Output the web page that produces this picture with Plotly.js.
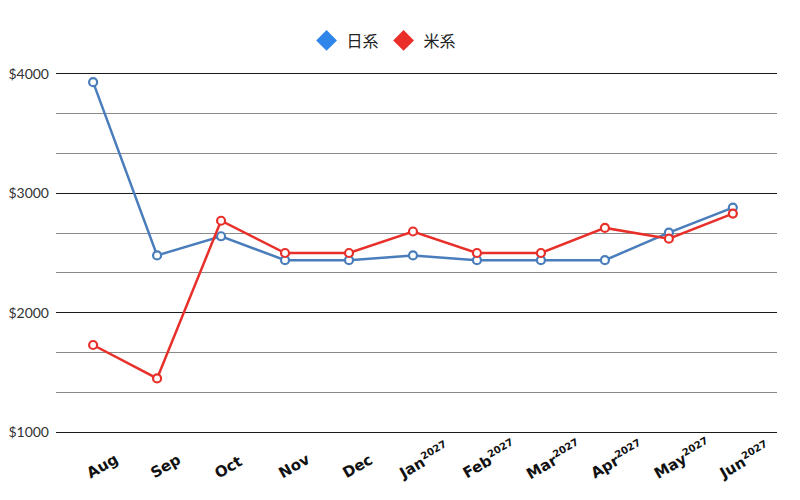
<!DOCTYPE html>
<html>
<head>
<meta charset="utf-8">
<script src="https://cdn.plot.ly/plotly-3.0.1.min.js"></script>
<style>
  html, body { margin: 0; padding: 0; background: #fff; }
  #chart { width: 800px; height: 500px; }
</style>
</head>
<body>
<div id="chart"></div>
<script>
// months along the bottom, 2027 ones get the small year tag
var months = ['Aug', 'Sep', 'Oct', 'Nov', 'Dec', 'Jan', 'Feb', 'Mar', 'Apr', 'May', 'Jun']
var yearTags = ['', '', '', '', '', '2027', '2027', '2027', '2027', '2027', '2027']

// series
var nikkei = [3930, 2480, 2640, 2440, 2440, 2480, 2440, 2440, 2440, 2670, 2880]
var beikei = [1730, 1450, 2770, 2500, 2500, 2680, 2500, 2500, 2710, 2620, 2830]

var seriesNames = ['日系', '米系']
var yTicks = [1000, 2000, 3000, 4000]

var labels = months.map(function (m, i) {
    return yearTags[i] ? m + '<sup><span style="font-size:10px">' + yearTags[i] + '</span></sup>' : m
})

function lineTrace(vals, color) {
    return {
        x: labels,
        y: vals,
        type: 'scatter',
        mode: 'lines+markers',
        showlegend: false,
        line: { color: color, width: 2.5 },
        marker: {
            symbol: 'circle',
            size: 8,
            color: '#fff',
            line: { color: color, width: 2.2 }
        },
        cliponaxis: false
    }
}

// legend-only traces so the legend shows diamonds
function legendTrace(name, color) {
    return {
        x: [null],
        y: [null],
        type: 'scatter',
        mode: 'markers',
        name: name,
        marker: { symbol: 'diamond', size: 18, color: color }
    }
}

var data = [
    lineTrace(nikkei, '#4a7dbb'),
    lineTrace(beikei, '#e8302b'),
    legendTrace(seriesNames[0], '#2f86ea'),
    legendTrace(seriesNames[1], '#ea2e2a')
]

// month labels start at the category and climb to the right,
// plotly's own tick labels hang from their end so draw them as annotations
var monthNotes = labels.map(function (lab, i) {
    return {
        x: lab,
        xref: 'x',
        y: 0,
        yref: 'paper',
        text: lab,
        showarrow: false,
        textangle: -30,
        xanchor: 'left',
        yanchor: 'bottom',
        // the year tag makes the box taller, pull those back a bit
        xshift: yearTags[i] ? -21 : -12,
        yshift: -51,
        font: { family: 'DejaVu Sans', weight: 'bold', size: 15, color: '#111' }
    }
})

var layout = {
    width: 800,
    height: 500,
    paper_bgcolor: '#fff',
    plot_bgcolor: '#fff',
    margin: { l: 56, r: 23, t: 72, b: 66 },
    showlegend: true,
    legend: {
        orientation: 'h',
        x: 0.455,
        xanchor: 'center',
        y: 1.04,
        yanchor: 'bottom',
        font: { family: 'Noto Sans CJK JP', size: 16, color: '#222' },
        itemwidth: 30
    },
    annotations: monthNotes,
    xaxis: {
        type: 'category',
        range: [-0.58, 10.69],
        showgrid: false,
        zeroline: false,
        showline: false,
        ticks: '',
        showticklabels: false
    },
    yaxis: {
        range: [985, 4015],
        tickvals: yTicks,
        ticktext: yTicks.map(function (v) { return '$' + v }),
        showgrid: true,
        gridcolor: '#1a1a1a',
        gridwidth: 1,
        zeroline: false,
        showline: false,
        ticks: '',
        ticklabelstandoff: 6,
        tickfont: { family: 'Lato', size: 14, color: '#333' },
        minor: {
            tick0: 1000,
            dtick: 1000 / 3,
            showgrid: true,
            gridcolor: '#8a8a8a',
            gridwidth: 1
        }
    }
}

Plotly.newPlot('chart', data, layout, { displayModeBar: false, staticPlot: true })
</script>
</body>
</html>
